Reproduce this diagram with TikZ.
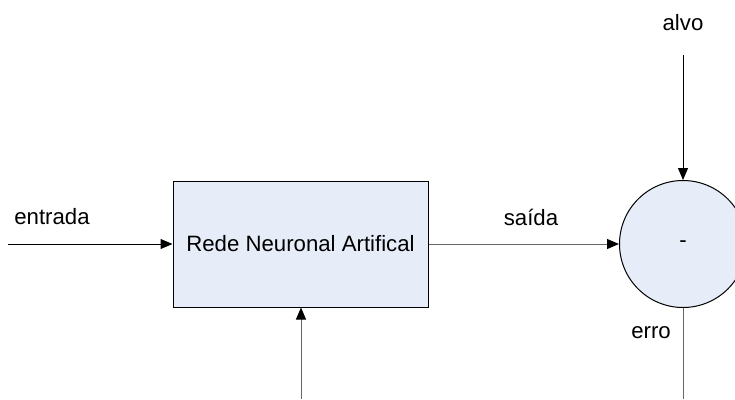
\documentclass[tikz,border=0pt]{standalone}
\usepackage{fontspec}
\setmainfont{Liberation Sans}
\usetikzlibrary{arrows.meta}
\definecolor{boxfill}{RGB}{230,236,248}

\begin{document}
\begin{tikzpicture}[x=1pt,y=-1pt,
    every node/.style={font=\fontsize{22.2}{26}\selectfont},
    bloco/.style={rectangle, draw=black, line width=1pt, fill=boxfill,
        minimum width=255pt, minimum height=126pt},
    soma/.style={circle, draw=black, line width=1pt, fill=boxfill,
        minimum size=127pt, inner sep=0pt},
    seta/.style={-{Triangle[length=12pt,width=10pt,color=black]}, line width=1pt},
    linha/.style={line width=1pt, draw=black!60}]
\useasboundingbox (0,0) rectangle (735,399);
% blocos
\node[bloco] (rna) at (300.5,244) {Rede Neuronal Artifical};
\node[soma] (sub) at (683,244) {-};
% pontas livres
\coordinate (in) at (8,244);
\coordinate (ajuste) at (301,399);
\coordinate (alvo0) at (683,55);
\coordinate (erro0) at (683,399);
% ligacoes
\draw[seta] (in) -- (rna.west);
\draw[seta, draw=black!60] (rna.east) -- (sub.west);
\draw[seta] (alvo0) -- (sub.north);
\draw[seta, draw=black!60] (ajuste) -- (rna.south -| ajuste);
\draw[linha] (sub.south) -- (erro0);
% rotulos
\node (entrada) at (52,217) {entrada};
\node (saida) at (531,217) {saída};
\node (alvo) at (683,23) {alvo};
\node (erro) at (651,333) {erro};
\end{tikzpicture}
\end{document}
